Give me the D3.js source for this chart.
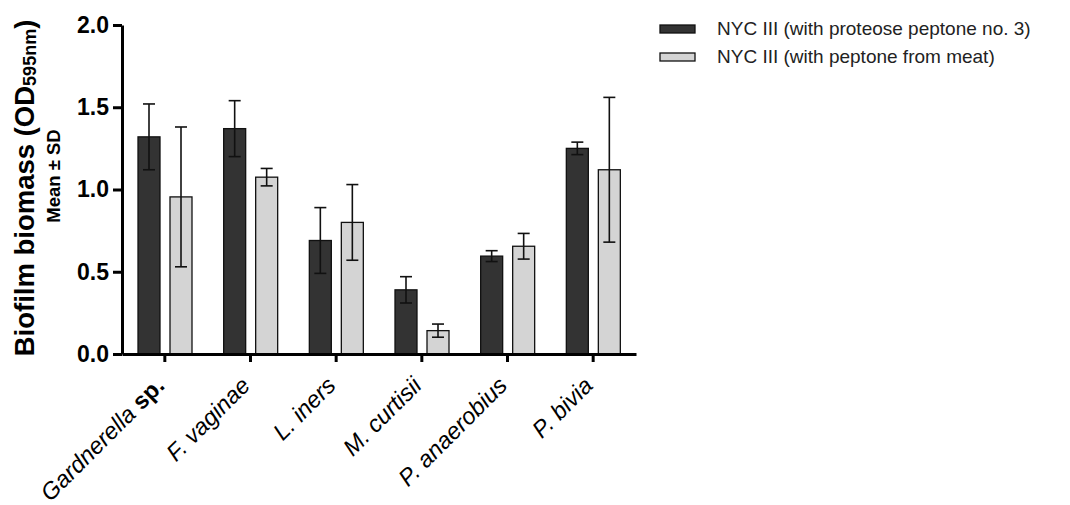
<!DOCTYPE html>
<html>
<head>
<meta charset="utf-8">
<script src="https://cdn.jsdelivr.net/npm/d3@7"></script>
<style>
  html, body { margin: 0; padding: 0; background: #fff; }
  svg { display: block; font-family: "Liberation Sans", Arial, sans-serif; }
</style>
</head>
<body>
<svg id="chart" width="1070" height="505"></svg>
<script>
// ---- data ----
const categories = ["Gardnerella sp.", "F. vaginae", "L. iners", "M. curtisii", "P. anaerobius", "P. bivia"];
const seriesNames = ["NYC III (with proteose peptone no. 3)", "NYC III (with peptone from meat)"];
const meansProteose = [1.32, 1.37, 0.69, 0.39, 0.595, 1.25];
const sdProteose    = [0.20, 0.17, 0.20, 0.08, 0.033, 0.038];
const meansMeat     = [0.955, 1.075, 0.80, 0.142, 0.655, 1.12];
const sdMeat        = [0.425, 0.053, 0.23, 0.040, 0.078, 0.44];
const yTicks = [0.0, 0.5, 1.0, 1.5, 2.0];

const colors = ["#333333", "#d4d4d4"];

const svg = d3.select("#chart");

const y = d3.scaleLinear().domain([0, 2]).range([354, 25]);
const x0 = d3.scaleBand().domain(categories).range([122, 636]).paddingInner(0).paddingOuter(0);
const x1 = d3.scaleBand().domain(seriesNames).range([16, 70]).paddingInner(0.3125).paddingOuter(0);

const rows = categories.map((c, i) => ({
  cat: c,
  vals: [
    { s: seriesNames[0], m: meansProteose[i], sd: sdProteose[i], k: 0 },
    { s: seriesNames[1], m: meansMeat[i], sd: sdMeat[i], k: 1 }
  ]
}));

// bars
const g = svg.append("g");
const grp = g.selectAll("g.cat").data(rows).join("g")
  .attr("class", "cat")
  .attr("transform", d => `translate(${x0(d.cat)},0)`);

grp.selectAll("rect").data(d => d.vals).join("rect")
  .attr("x", d => x1(d.s))
  .attr("width", x1.bandwidth())
  .attr("y", d => y(d.m))
  .attr("height", d => y(0) - y(d.m))
  .attr("fill", d => colors[d.k])
  .attr("stroke", "#111")
  .attr("stroke-width", 1.3);

// error bars
const cap = 6;
const eb = grp.selectAll("g.eb").data(d => d.vals).join("g").attr("class", "eb")
  .attr("stroke", "#111").attr("stroke-width", 1.6).attr("fill", "none");
eb.append("line")
  .attr("x1", d => x1(d.s) + x1.bandwidth() / 2)
  .attr("x2", d => x1(d.s) + x1.bandwidth() / 2)
  .attr("y1", d => y(d.m - d.sd))
  .attr("y2", d => y(d.m + d.sd));
eb.append("line")
  .attr("x1", d => x1(d.s) + x1.bandwidth() / 2 - cap)
  .attr("x2", d => x1(d.s) + x1.bandwidth() / 2 + cap)
  .attr("y1", d => y(d.m + d.sd))
  .attr("y2", d => y(d.m + d.sd));
eb.append("line")
  .attr("x1", d => x1(d.s) + x1.bandwidth() / 2 - cap)
  .attr("x2", d => x1(d.s) + x1.bandwidth() / 2 + cap)
  .attr("y1", d => y(d.m - d.sd))
  .attr("y2", d => y(d.m - d.sd));

// y axis
const yAxis = svg.append("g")
  .attr("transform", "translate(122,0)")
  .call(d3.axisLeft(y).tickValues(yTicks).tickFormat(d3.format(".1f")).tickSize(9).tickSizeOuter(0).tickPadding(4));
yAxis.select(".domain").attr("stroke", "#000").attr("stroke-width", 3);
yAxis.selectAll(".tick line").attr("stroke", "#000").attr("stroke-width", 3);
yAxis.selectAll(".tick text")
  .attr("fill", "#000")
  .style("font-size", "23px")
  .style("font-weight", "bold");

// x axis
const xAxis = svg.append("g")
  .attr("transform", `translate(0,${y(0)})`)
  .call(d3.axisBottom(x0).tickSize(8).tickSizeOuter(0).tickFormat(""));
xAxis.select(".domain").attr("stroke", "#000").attr("stroke-width", 3);
xAxis.selectAll(".tick line").attr("stroke", "#000").attr("stroke-width", 3);

// x tick labels
const lab = svg.append("g").selectAll("text").data(categories).join("text")
  .attr("text-anchor", "end")
  .attr("transform", d => `translate(${x0(d) + x0.bandwidth() / 2 + 1},${y(0) + 33}) rotate(-45)`)
  .style("font-size", "23.5px")
  .attr("fill", "#000");
lab.each(function (d) {
  const t = d3.select(this);
  if (d.endsWith(" sp.")) {
    t.append("tspan").style("font-style", "italic").text(d.slice(0, -3));
    t.append("tspan").style("font-weight", "bold").text("sp.");
  } else {
    t.append("tspan").style("font-style", "italic").text(d);
  }
});

// y label
const yl = svg.append("text")
  .attr("transform", "translate(34,188) rotate(-90)")
  .attr("text-anchor", "middle")
  .style("font-size", "27.5px")
  .style("font-weight", "bold")
  .attr("fill", "#000");
yl.append("tspan").text("Biofilm biomass (OD");
yl.append("tspan").style("font-size", "18px").attr("dy", 2).text("595nm");
yl.append("tspan").attr("dy", -2).text(")");

svg.append("text")
  .attr("transform", "translate(60,176) rotate(-90)")
  .attr("text-anchor", "middle")
  .style("font-size", "18.5px")
  .style("font-weight", "bold")
  .attr("fill", "#000")
  .text("Mean ± SD");

// legend
const leg = svg.append("g").selectAll("g").data(seriesNames).join("g")
  .attr("transform", (d, i) => `translate(660,${25 + i * 28})`);
leg.append("rect")
  .attr("width", 35).attr("height", 8)
  .attr("fill", (d, i) => colors[i])
  .attr("stroke", "#111").attr("stroke-width", 1.3);
leg.append("text")
  .attr("x", 57).attr("y", 10)
  .style("font-size", "19px")
  .attr("fill", "#222")
  .text(d => d);
</script>
</body>
</html>
